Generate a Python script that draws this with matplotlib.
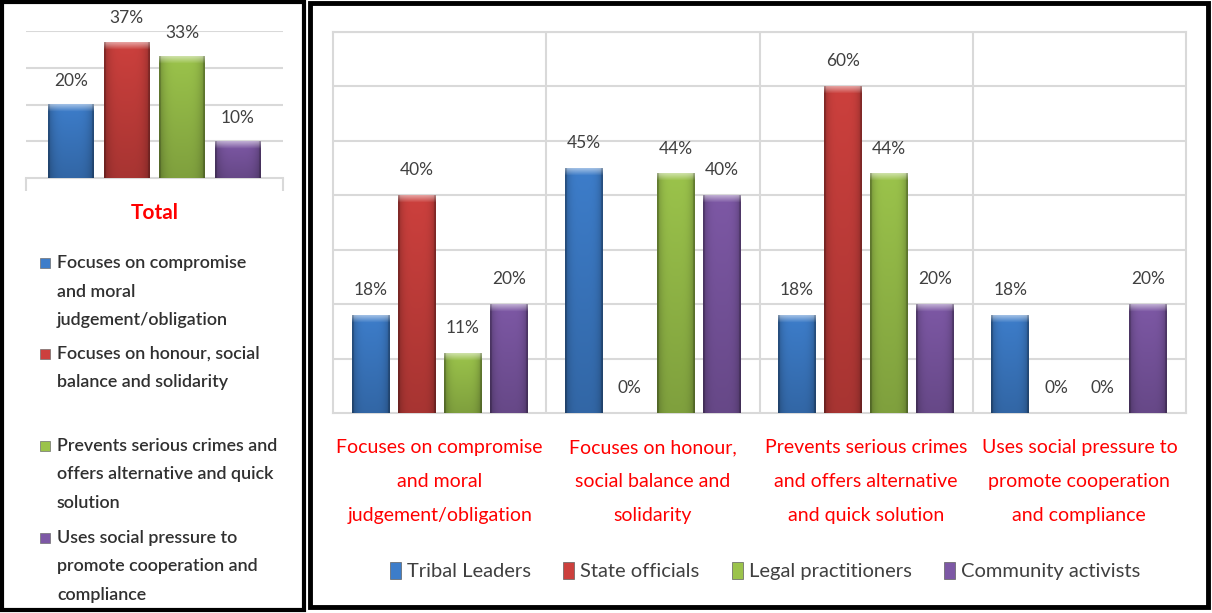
import numpy as np
import matplotlib
matplotlib.use("Agg")
import matplotlib.pyplot as plt
import matplotlib.colors as mcolors
from matplotlib.patches import Rectangle

plt.rcParams['font.family'] = ['Lato', 'DejaVu Sans']

# overall shares (small chart on the left)
total_labels = ['Focuses on compromise\nand moral\njudgement/obligation',
                'Focuses on honour, social\nbalance and solidarity',
                'Prevents serious crimes and\noffers alternative and quick\nsolution',
                'Uses social pressure to\npromote cooperation and\ncompliance']
total_values = [20, 37, 33, 10]

# shares by respondent group
categories = ['Focuses on compromise\nand moral\njudgement/obligation',
              'Focuses on honour,\nsocial balance and\nsolidarity',
              'Prevents serious crimes\nand offers alternative\nand quick solution',
              'Uses social pressure to\npromote cooperation\nand compliance']
groups = ['Tribal Leaders', 'State officials', 'Legal practitioners', 'Community activists']
tribal_leaders = [18, 45, 18, 18]
state_officials = [40, 0, 60, 0]
legal_practitioners = [11, 44, 44, 0]
community_activists = [20, 40, 20, 20]

colors = ['#3d7dca', '#cc403d', '#9bc34b', '#7d58a5']
grid_col = '#d9d9d9'
text_col = '#404040'

W, H = 1212, 613
fig = plt.figure(figsize=(W / 100, H / 100), dpi=100)
fig.patch.set_facecolor('white')


def fx(px):
    return px / W


def fy(py):
    return 1 - py / H


def shade_bar(ax, patch, color):
    # paint a bevelled gradient over a plain bar
    x0, w, h = patch.get_x(), patch.get_width(), patch.get_height()
    if h <= 0:
        return
    (px0, py0), (px1, py1) = ax.transData.transform([(x0, 0), (x0 + w, h)])
    nx = max(int(px1 - px0), 2)
    ny = max(int(py1 - py0), 2)
    base = np.array(mcolors.to_rgb(color))
    u = np.linspace(-1, 1, nx)
    side = 1 - 0.25 * np.abs(u) ** 4
    v = np.linspace(0, 1, ny)
    depth = 1 - 0.18 * v
    img = base[None, None, :] * side[None, :, None] * depth[:, None, None]
    bev = 7
    for r in range(min(bev, ny)):
        t = 0.5 * (1 - r / bev)
        img[r] = img[r] + (1 - img[r]) * t
    img[:, :2] *= 0.85
    img[:, -2:] *= 0.85
    ax.imshow(np.clip(img, 0, 1), extent=(x0, x0 + w, 0, h), aspect='auto',
              origin='upper', interpolation='bilinear', zorder=3)


step, width = 0.216, 0.178
offsets = (np.arange(4) - 1.5) * step

# ---- left: total ----
axl = fig.add_axes([fx(26), fy(178), fx(283) - fx(26), fy(31) - fy(178)])
axl.set_xlim(-0.5, 0.5)
axl.set_ylim(0, 40)
bars_l = axl.bar(offsets, total_values, width=width, color=colors, zorder=2)
for b, c in zip(bars_l, colors):
    shade_bar(axl, b, c)
for x, v in zip(offsets, total_values):
    axl.annotate(f'{v}%', (x, v), xytext=(0, 17), textcoords='offset points',
                 ha='center', va='center', fontsize=12.5, color=text_col,
                 annotation_clip=False)
axl.set_xlim(-0.5, 0.5)
axl.set_ylim(0, 40)
axl.set_yticks([10, 20, 30, 40])
axl.yaxis.grid(True, color=grid_col, linewidth=1.5)
axl.set_axisbelow(True)
axl.tick_params(axis='y', left=False, labelleft=False)
axl.set_xticks([-0.5, 0.5])
axl.tick_params(axis='x', direction='out', length=9, width=1.5, color=grid_col,
                labelbottom=False)
for s in ['left', 'right', 'top']:
    axl.spines[s].set_visible(False)
axl.spines['bottom'].set_color(grid_col)
axl.spines['bottom'].set_linewidth(1.5)

fig.text(fx(155), fy(213), 'Total', color='red', fontsize=15, fontweight='bold',
         ha='center', va='center')

# left legend, one line at a time
entry_tops = [263, 354, 446, 538]
line_gap = 28.5
for lab, c, y0 in zip(total_labels, colors, entry_tops):
    fig.add_artist(Rectangle((fx(40), fy(y0 + 5)), fx(10), fy(0) - fy(10),
                             transform=fig.transFigure, facecolor=c,
                             edgecolor='#707070', linewidth=0.5))
    for i, line in enumerate(lab.split('\n')):
        fig.text(fx(57), fy(y0 + i * line_gap), line, fontsize=12.9,
                 color='#303030', ha='left', va='center', fontweight='semibold')

# ---- right: by group ----
axr = fig.add_axes([fx(333), fy(413), fx(1186) - fx(333), fy(32) - fy(413)])
x = np.arange(len(categories))
axr.set_xlim(-0.5, 3.5)
axr.set_ylim(0, 70)
series = [tribal_leaders, state_officials, legal_practitioners, community_activists]
handles = []
for k, (vals, c) in enumerate(zip(series, colors)):
    bars = axr.bar(x + offsets[k], vals, width=width, color=c, zorder=2)
    handles.append(Rectangle((0, 0), 1, 1, facecolor=c, edgecolor='#606060',
                             linewidth=0.5))
    for b in bars:
        shade_bar(axr, b, c)
    for xi, v in zip(x + offsets[k], vals):
        axr.annotate(f'{v}%', (xi, v), xytext=(0, 18), textcoords='offset points',
                     ha='center', va='center', fontsize=12.5, color=text_col,
                     annotation_clip=False)
axr.set_xlim(-0.5, 3.5)
axr.set_ylim(0, 70)
axr.set_yticks(np.arange(10, 80, 10))
axr.yaxis.grid(True, color=grid_col, linewidth=1.5)
axr.set_xticks([0.5, 1.5, 2.5], minor=True)
axr.xaxis.grid(True, which='minor', color=grid_col, linewidth=1.5)
axr.set_axisbelow(True)
axr.tick_params(axis='y', left=False, labelleft=False)
axr.set_xticks(x)
axr.set_xticklabels(categories, color='red', fontsize=14, linespacing=2.2)
axr.tick_params(axis='x', which='both', length=0, pad=19)
for s in axr.spines.values():
    s.set_color(grid_col)
    s.set_linewidth(1.5)

fig.legend(handles, groups, loc='center', bbox_to_anchor=(fx(765), fy(571)),
           ncol=4, frameon=False, fontsize=14.5, handlelength=0.55, handleheight=0.95,
           handletextpad=0.3, columnspacing=1.6, labelcolor=text_col)

# panel frames
fig.add_artist(Rectangle((fx(2), fy(610)), fx(304) - fx(2), fy(2) - fy(610),
                         transform=fig.transFigure, fill=False,
                         edgecolor='black', linewidth=3))
fig.add_artist(Rectangle((fx(310), fy(607)), fx(1208) - fx(310), fy(3) - fy(607),
                         transform=fig.transFigure, fill=False,
                         edgecolor='black', linewidth=3.5))

fig.savefig('out.png', dpi=100)
